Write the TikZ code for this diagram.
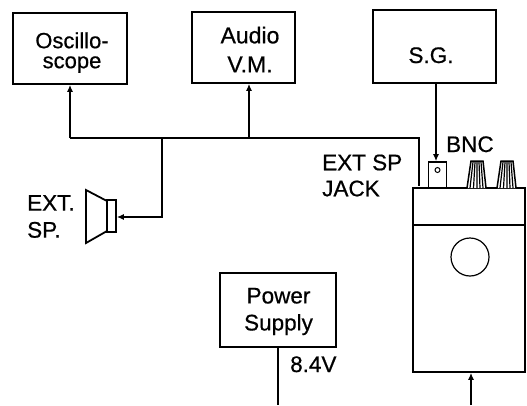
\documentclass[tikz,border=0pt]{standalone}
\usepackage{fontspec}
\setmainfont{Liberation Sans}[BoldFont={Liberation Sans}, BoldFeatures={FakeBold=0.6}]
\usetikzlibrary{arrows.meta}
\begin{document}
\begin{tikzpicture}[x=1pt,y=-1pt,
  box/.style={draw, line width=1.6pt, inner sep=0pt},
  conn/.style={line width=2.4pt},
  arr/.style={conn, -{Latex[length=7pt,width=6pt]}},
  txt/.style={inner sep=0pt, font=\fontsize{22.5}{27}\selectfont\bfseries},
  thin/.style={line width=1.5pt}]
\useasboundingbox (0,0) rectangle (527,405);
% boxes
\node[box, minimum width=114pt, minimum height=71pt] (osc) at (70,48.5) {};
\node[box, minimum width=103pt, minimum height=71pt] (avm) at (243.5,47.5) {};
\node[box, minimum width=123pt, minimum height=73pt] (sg) at (434.5,46.5) {};
\node[box, minimum width=116pt, minimum height=74pt] (ps) at (278,310) {};
\node[box, minimum width=112pt, minimum height=184pt] (rx) at (469,280) {};
\node[draw, line width=1.2pt, circle, minimum size=38pt, inner sep=0pt] (dial) at (470,257) {};
\draw[thin] (rx.west |- 0,225) -- (rx.east |- 0,225);
% texts
\node[txt, align=center, font=\fontsize{22}{20}\selectfont\bfseries] (toscl) at (72,52.5) {Oscillo-\\scope};
\node[txt, align=center, font=\fontsize{23}{29}\selectfont\bfseries] (tavm) at (250,49.5) {Audio\\V.M.};
\node[txt, anchor=base] (tsg) at (431,63) {S.G.};
\node[txt, align=center, font=\fontsize{22.5}{27}\selectfont\bfseries] (tps) at (278.5,311.5) {Power\\Supply};
\node[txt, anchor=base west] (t84) at (290,372) {8.4V};
\node[txt, anchor=base west] (tbnc) at (446,152) {BNC};
\node[txt, align=left, anchor=west, font=\fontsize{22.5}{26}\selectfont\bfseries] (tjack) at (322,175.5) {EXT SP\\JACK};
\node[txt, align=left, anchor=west, font=\fontsize{22.5}{27}\selectfont\bfseries] (tspk) at (27,216.5) {EXT.\\SP.};
% BNC connector and knobs
\node[box, minimum width=18pt, minimum height=26pt] (bnc) at (437.5,175) {};
\node[draw, line width=1pt, circle, minimum size=5pt, inner sep=0pt] (bncpin) at (437.5,170) {};
\draw[thin, fill=white] (467,188) -- (471,161) -- (483,161) -- (486,188);
\draw[line width=1.2pt] (470,188) -- (473,162) (473.5,188) -- (475,162) (477,188) -- (477,162) (480,188) -- (479,162) (483,188) -- (481,162);
\draw[thin, fill=white] (497,188) -- (501,161) -- (513,161) -- (516,188);
\draw[line width=1.2pt] (500,188) -- (503,162) (503.5,188) -- (505,162) (507,188) -- (507,162) (510,188) -- (509,162) (513,188) -- (511,162);
% speaker
\node[box, minimum width=9pt, minimum height=32pt] (spk) at (111.5,216) {};
\draw[line width=1.8pt, line join=miter] (107,201) -- (86,190) -- (86,243) -- (107,231);
% junctions
\coordinate (jo) at (70,138);
\coordinate (ja) at (249,138);
\coordinate (js) at (162,138);
\coordinate (jr) at (419,138);
\coordinate (jk) at (419,186);
\coordinate (jsb) at (162,217);
\coordinate (psb) at (278,405);
\coordinate (rxb) at (471,405);
% connectors
\draw[conn] (jo) -- (jr) -- (jk);
\draw[arr] (jo) -- (osc.south);
\draw[arr] (ja) -- (ja |- avm.south);
\draw[arr] (js) -- (jsb) -- (spk.east |- jsb);
\draw[arr] (sg.south -| 436,0) -- (bnc.north -| 436,0);
\draw[conn] (ps.south) -- (psb);
\draw[arr] (rxb) -- (rxb |- rx.south);
\end{tikzpicture}
\end{document}
